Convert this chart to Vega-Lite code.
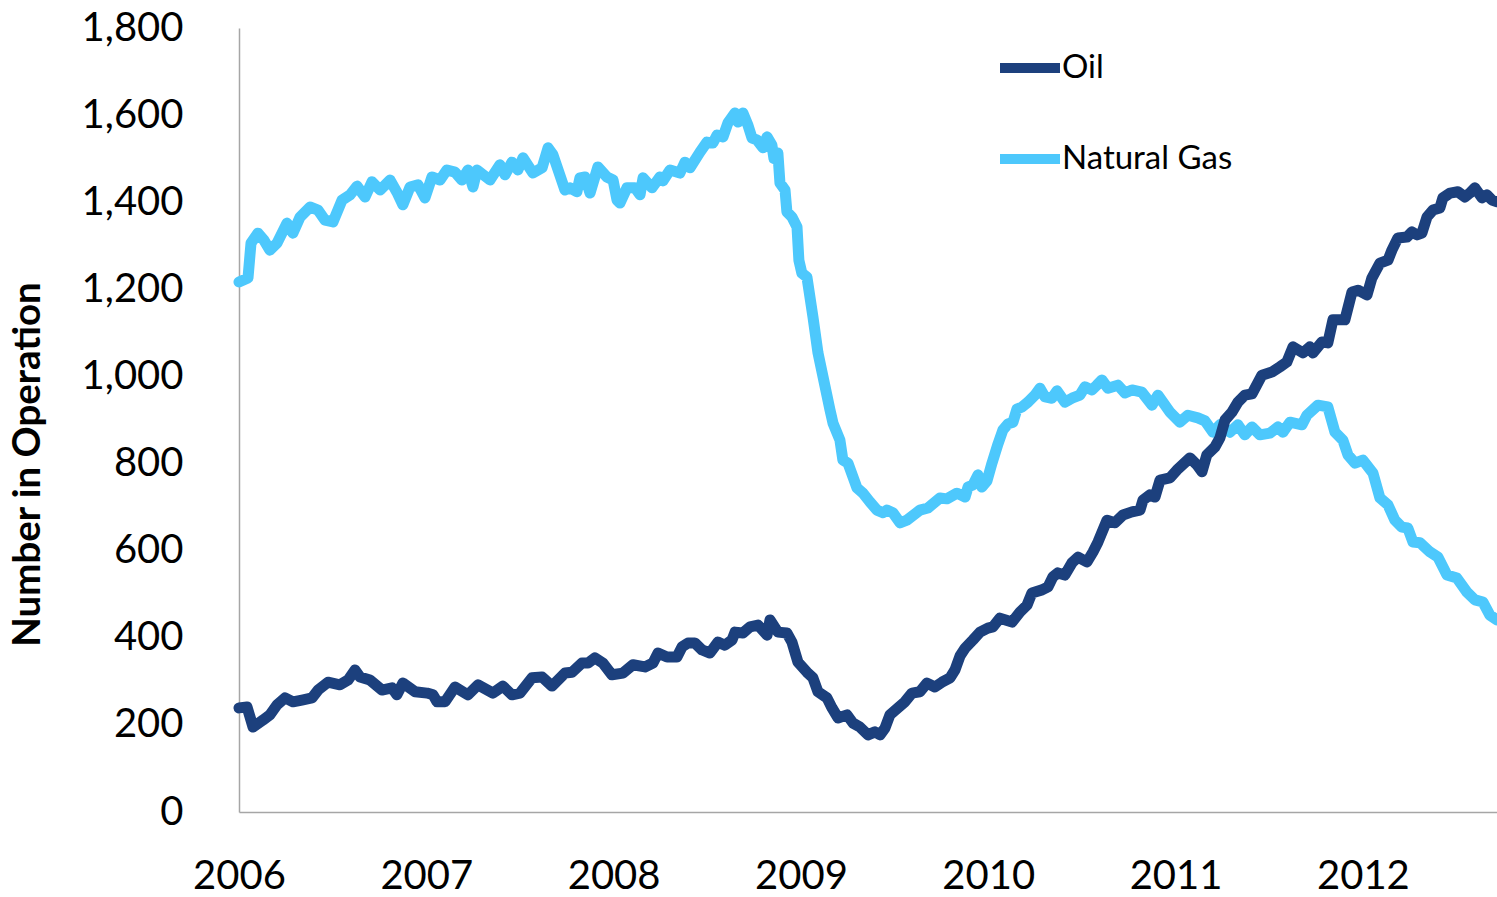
{
 "$schema": "https://vega.github.io/schema/vega-lite/v6.json",
 "width": 1258,
 "height": 784,
 "autosize": {"type": "none"},
 "padding": {"left": 239, "top": 28, "right": 0, "bottom": 85},
 "background": "white",
 "config": {"view": {"stroke": null}, "font": "Lato"},
 "data": {"values": [
{"s":"Natural Gas","t":2006.000,"v":1217},{"s":"Natural Gas","t":2006.048,"v":1226},{"s":"Natural Gas","t":2006.064,"v":1306},{"s":"Natural Gas","t":2006.101,"v":1329},{"s":"Natural Gas","t":2006.133,"v":1313},{"s":"Natural Gas","t":2006.165,"v":1290},{"s":"Natural Gas","t":2006.203,"v":1306},{"s":"Natural Gas","t":2006.256,"v":1352},{"s":"Natural Gas","t":2006.288,"v":1329},{"s":"Natural Gas","t":2006.326,"v":1366},{"s":"Natural Gas","t":2006.379,"v":1389},{"s":"Natural Gas","t":2006.422,"v":1382},{"s":"Natural Gas","t":2006.459,"v":1359},{"s":"Natural Gas","t":2006.502,"v":1355},{"s":"Natural Gas","t":2006.550,"v":1405},{"s":"Natural Gas","t":2006.593,"v":1417},{"s":"Natural Gas","t":2006.630,"v":1437},{"s":"Natural Gas","t":2006.673,"v":1412},{"s":"Natural Gas","t":2006.710,"v":1447},{"s":"Natural Gas","t":2006.753,"v":1428},{"s":"Natural Gas","t":2006.806,"v":1451},{"s":"Natural Gas","t":2006.843,"v":1423},{"s":"Natural Gas","t":2006.875,"v":1394},{"s":"Natural Gas","t":2006.913,"v":1435},{"s":"Natural Gas","t":2006.956,"v":1440},{"s":"Natural Gas","t":2006.993,"v":1410},
{"s":"Natural Gas","t":2007.030,"v":1458},{"s":"Natural Gas","t":2007.073,"v":1451},{"s":"Natural Gas","t":2007.110,"v":1474},{"s":"Natural Gas","t":2007.153,"v":1469},{"s":"Natural Gas","t":2007.190,"v":1451},{"s":"Natural Gas","t":2007.222,"v":1474},{"s":"Natural Gas","t":2007.249,"v":1435},{"s":"Natural Gas","t":2007.271,"v":1474},{"s":"Natural Gas","t":2007.340,"v":1451},{"s":"Natural Gas","t":2007.393,"v":1486},{"s":"Natural Gas","t":2007.420,"v":1463},{"s":"Natural Gas","t":2007.457,"v":1492},{"s":"Natural Gas","t":2007.489,"v":1474},{"s":"Natural Gas","t":2007.516,"v":1502},{"s":"Natural Gas","t":2007.569,"v":1467},{"s":"Natural Gas","t":2007.618,"v":1479},{"s":"Natural Gas","t":2007.650,"v":1525},{"s":"Natural Gas","t":2007.676,"v":1509},{"s":"Natural Gas","t":2007.740,"v":1428},{"s":"Natural Gas","t":2007.767,"v":1433},{"s":"Natural Gas","t":2007.804,"v":1424},{"s":"Natural Gas","t":2007.820,"v":1456},{"s":"Natural Gas","t":2007.847,"v":1458},{"s":"Natural Gas","t":2007.874,"v":1421},{"s":"Natural Gas","t":2007.916,"v":1481},{"s":"Natural Gas","t":2007.964,"v":1458},{"s":"Natural Gas","t":2007.997,"v":1451},
{"s":"Natural Gas","t":2008.018,"v":1405},{"s":"Natural Gas","t":2008.034,"v":1398},{"s":"Natural Gas","t":2008.071,"v":1433},{"s":"Natural Gas","t":2008.114,"v":1433},{"s":"Natural Gas","t":2008.141,"v":1417},{"s":"Natural Gas","t":2008.157,"v":1456},{"s":"Natural Gas","t":2008.205,"v":1433},{"s":"Natural Gas","t":2008.247,"v":1458},{"s":"Natural Gas","t":2008.263,"v":1449},{"s":"Natural Gas","t":2008.301,"v":1474},{"s":"Natural Gas","t":2008.354,"v":1467},{"s":"Natural Gas","t":2008.381,"v":1492},{"s":"Natural Gas","t":2008.408,"v":1479},{"s":"Natural Gas","t":2008.461,"v":1515},{"s":"Natural Gas","t":2008.498,"v":1538},{"s":"Natural Gas","t":2008.530,"v":1536},{"s":"Natural Gas","t":2008.552,"v":1554},{"s":"Natural Gas","t":2008.584,"v":1550},{"s":"Natural Gas","t":2008.610,"v":1582},{"s":"Natural Gas","t":2008.648,"v":1605},{"s":"Natural Gas","t":2008.664,"v":1584},{"s":"Natural Gas","t":2008.690,"v":1605},{"s":"Natural Gas","t":2008.717,"v":1577},{"s":"Natural Gas","t":2008.739,"v":1547},{"s":"Natural Gas","t":2008.765,"v":1543},{"s":"Natural Gas","t":2008.797,"v":1525},{"s":"Natural Gas","t":2008.819,"v":1550},{"s":"Natural Gas","t":2008.845,"v":1531},{"s":"Natural Gas","t":2008.856,"v":1500},{"s":"Natural Gas","t":2008.877,"v":1513},{"s":"Natural Gas","t":2008.888,"v":1444},{"s":"Natural Gas","t":2008.915,"v":1428},{"s":"Natural Gas","t":2008.925,"v":1378},{"s":"Natural Gas","t":2008.952,"v":1366},{"s":"Natural Gas","t":2008.979,"v":1343},{"s":"Natural Gas","t":2008.989,"v":1267},
{"s":"Natural Gas","t":2009.005,"v":1237},{"s":"Natural Gas","t":2009.032,"v":1228},{"s":"Natural Gas","t":2009.064,"v":1137},{"s":"Natural Gas","t":2009.091,"v":1054},{"s":"Natural Gas","t":2009.118,"v":999},{"s":"Natural Gas","t":2009.155,"v":923},{"s":"Natural Gas","t":2009.171,"v":893},{"s":"Natural Gas","t":2009.208,"v":854},{"s":"Natural Gas","t":2009.224,"v":808},{"s":"Natural Gas","t":2009.251,"v":801},{"s":"Natural Gas","t":2009.299,"v":744},{"s":"Natural Gas","t":2009.331,"v":732},{"s":"Natural Gas","t":2009.368,"v":712},{"s":"Natural Gas","t":2009.406,"v":693},{"s":"Natural Gas","t":2009.438,"v":687},{"s":"Natural Gas","t":2009.459,"v":693},{"s":"Natural Gas","t":2009.491,"v":687},{"s":"Natural Gas","t":2009.529,"v":664},{"s":"Natural Gas","t":2009.566,"v":670},{"s":"Natural Gas","t":2009.635,"v":693},{"s":"Natural Gas","t":2009.678,"v":698},{"s":"Natural Gas","t":2009.742,"v":721},{"s":"Natural Gas","t":2009.779,"v":719},{"s":"Natural Gas","t":2009.833,"v":732},{"s":"Natural Gas","t":2009.876,"v":723},{"s":"Natural Gas","t":2009.892,"v":746},{"s":"Natural Gas","t":2009.918,"v":751},{"s":"Natural Gas","t":2009.945,"v":774},{"s":"Natural Gas","t":2009.966,"v":746},{"s":"Natural Gas","t":2009.993,"v":760},
{"s":"Natural Gas","t":2010.020,"v":801},{"s":"Natural Gas","t":2010.052,"v":845},{"s":"Natural Gas","t":2010.078,"v":877},{"s":"Natural Gas","t":2010.105,"v":891},{"s":"Natural Gas","t":2010.132,"v":895},{"s":"Natural Gas","t":2010.153,"v":925},{"s":"Natural Gas","t":2010.180,"v":930},{"s":"Natural Gas","t":2010.212,"v":941},{"s":"Natural Gas","t":2010.249,"v":957},{"s":"Natural Gas","t":2010.276,"v":973},{"s":"Natural Gas","t":2010.303,"v":953},{"s":"Natural Gas","t":2010.340,"v":950},{"s":"Natural Gas","t":2010.367,"v":967},{"s":"Natural Gas","t":2010.409,"v":941},{"s":"Natural Gas","t":2010.447,"v":950},{"s":"Natural Gas","t":2010.489,"v":957},{"s":"Natural Gas","t":2010.516,"v":976},{"s":"Natural Gas","t":2010.554,"v":969},{"s":"Natural Gas","t":2010.580,"v":980},{"s":"Natural Gas","t":2010.607,"v":992},{"s":"Natural Gas","t":2010.639,"v":973},{"s":"Natural Gas","t":2010.692,"v":980},{"s":"Natural Gas","t":2010.730,"v":962},{"s":"Natural Gas","t":2010.767,"v":969},{"s":"Natural Gas","t":2010.820,"v":964},{"s":"Natural Gas","t":2010.874,"v":934},{"s":"Natural Gas","t":2010.906,"v":957},{"s":"Natural Gas","t":2010.970,"v":918},
{"s":"Natural Gas","t":2011.023,"v":895},{"s":"Natural Gas","t":2011.066,"v":911},{"s":"Natural Gas","t":2011.119,"v":905},{"s":"Natural Gas","t":2011.157,"v":898},{"s":"Natural Gas","t":2011.200,"v":872},{"s":"Natural Gas","t":2011.237,"v":889},{"s":"Natural Gas","t":2011.290,"v":872},{"s":"Natural Gas","t":2011.333,"v":889},{"s":"Natural Gas","t":2011.370,"v":866},{"s":"Natural Gas","t":2011.408,"v":884},{"s":"Natural Gas","t":2011.450,"v":866},{"s":"Natural Gas","t":2011.504,"v":870},{"s":"Natural Gas","t":2011.547,"v":884},{"s":"Natural Gas","t":2011.573,"v":872},{"s":"Natural Gas","t":2011.611,"v":895},{"s":"Natural Gas","t":2011.675,"v":889},{"s":"Natural Gas","t":2011.701,"v":911},{"s":"Natural Gas","t":2011.760,"v":934},{"s":"Natural Gas","t":2011.813,"v":930},{"s":"Natural Gas","t":2011.851,"v":872},{"s":"Natural Gas","t":2011.893,"v":854},{"s":"Natural Gas","t":2011.920,"v":820},{"s":"Natural Gas","t":2011.958,"v":801},
{"s":"Natural Gas","t":2012.000,"v":808},{"s":"Natural Gas","t":2012.054,"v":778},{"s":"Natural Gas","t":2012.091,"v":721},{"s":"Natural Gas","t":2012.134,"v":705},{"s":"Natural Gas","t":2012.171,"v":670},{"s":"Natural Gas","t":2012.208,"v":654},{"s":"Natural Gas","t":2012.240,"v":652},{"s":"Natural Gas","t":2012.267,"v":620},{"s":"Natural Gas","t":2012.305,"v":618},{"s":"Natural Gas","t":2012.358,"v":597},{"s":"Natural Gas","t":2012.401,"v":585},{"s":"Natural Gas","t":2012.449,"v":544},{"s":"Natural Gas","t":2012.502,"v":537},{"s":"Natural Gas","t":2012.555,"v":505},{"s":"Natural Gas","t":2012.598,"v":487},{"s":"Natural Gas","t":2012.641,"v":482},{"s":"Natural Gas","t":2012.678,"v":452},{"s":"Natural Gas","t":2012.716,"v":441},
{"s":"Oil","t":2006.000,"v":239},{"s":"Oil","t":2006.043,"v":241},{"s":"Oil","t":2006.075,"v":195},{"s":"Oil","t":2006.128,"v":211},{"s":"Oil","t":2006.165,"v":223},{"s":"Oil","t":2006.203,"v":246},{"s":"Oil","t":2006.246,"v":262},{"s":"Oil","t":2006.288,"v":253},{"s":"Oil","t":2006.336,"v":257},{"s":"Oil","t":2006.390,"v":262},{"s":"Oil","t":2006.422,"v":280},{"s":"Oil","t":2006.475,"v":298},{"s":"Oil","t":2006.539,"v":292},{"s":"Oil","t":2006.582,"v":303},{"s":"Oil","t":2006.619,"v":326},{"s":"Oil","t":2006.646,"v":310},{"s":"Oil","t":2006.699,"v":303},{"s":"Oil","t":2006.763,"v":280},{"s":"Oil","t":2006.817,"v":285},{"s":"Oil","t":2006.843,"v":269},{"s":"Oil","t":2006.875,"v":296},{"s":"Oil","t":2006.940,"v":276},
{"s":"Oil","t":2007.004,"v":273},{"s":"Oil","t":2007.036,"v":269},{"s":"Oil","t":2007.057,"v":253},{"s":"Oil","t":2007.100,"v":253},{"s":"Oil","t":2007.153,"v":287},{"s":"Oil","t":2007.222,"v":269},{"s":"Oil","t":2007.276,"v":292},{"s":"Oil","t":2007.356,"v":273},{"s":"Oil","t":2007.409,"v":289},{"s":"Oil","t":2007.457,"v":269},{"s":"Oil","t":2007.500,"v":273},{"s":"Oil","t":2007.564,"v":308},{"s":"Oil","t":2007.618,"v":310},{"s":"Oil","t":2007.671,"v":289},{"s":"Oil","t":2007.740,"v":319},{"s":"Oil","t":2007.778,"v":321},{"s":"Oil","t":2007.831,"v":342},{"s":"Oil","t":2007.863,"v":342},{"s":"Oil","t":2007.900,"v":354},{"s":"Oil","t":2007.943,"v":342},{"s":"Oil","t":2007.991,"v":315},
{"s":"Oil","t":2008.050,"v":319},{"s":"Oil","t":2008.103,"v":338},{"s":"Oil","t":2008.167,"v":333},{"s":"Oil","t":2008.210,"v":342},{"s":"Oil","t":2008.237,"v":365},{"s":"Oil","t":2008.285,"v":356},{"s":"Oil","t":2008.338,"v":356},{"s":"Oil","t":2008.365,"v":379},{"s":"Oil","t":2008.397,"v":388},{"s":"Oil","t":2008.434,"v":388},{"s":"Oil","t":2008.472,"v":372},{"s":"Oil","t":2008.514,"v":365},{"s":"Oil","t":2008.557,"v":390},{"s":"Oil","t":2008.594,"v":383},{"s":"Oil","t":2008.632,"v":395},{"s":"Oil","t":2008.648,"v":413},{"s":"Oil","t":2008.690,"v":411},{"s":"Oil","t":2008.728,"v":425},{"s":"Oil","t":2008.771,"v":429},{"s":"Oil","t":2008.819,"v":406},{"s":"Oil","t":2008.835,"v":441},{"s":"Oil","t":2008.877,"v":413},{"s":"Oil","t":2008.925,"v":411},{"s":"Oil","t":2008.952,"v":390},{"s":"Oil","t":2008.984,"v":344},
{"s":"Oil","t":2009.032,"v":321},{"s":"Oil","t":2009.064,"v":308},{"s":"Oil","t":2009.091,"v":276},{"s":"Oil","t":2009.139,"v":262},{"s":"Oil","t":2009.166,"v":239},{"s":"Oil","t":2009.198,"v":216},{"s":"Oil","t":2009.246,"v":223},{"s":"Oil","t":2009.278,"v":204},{"s":"Oil","t":2009.315,"v":195},{"s":"Oil","t":2009.358,"v":177},{"s":"Oil","t":2009.395,"v":184},{"s":"Oil","t":2009.422,"v":177},{"s":"Oil","t":2009.449,"v":193},{"s":"Oil","t":2009.475,"v":223},{"s":"Oil","t":2009.518,"v":239},{"s":"Oil","t":2009.555,"v":253},{"s":"Oil","t":2009.593,"v":273},{"s":"Oil","t":2009.635,"v":276},{"s":"Oil","t":2009.673,"v":296},{"s":"Oil","t":2009.715,"v":287},{"s":"Oil","t":2009.753,"v":298},{"s":"Oil","t":2009.796,"v":308},{"s":"Oil","t":2009.822,"v":326},{"s":"Oil","t":2009.849,"v":358},{"s":"Oil","t":2009.876,"v":376},{"s":"Oil","t":2009.918,"v":395},{"s":"Oil","t":2009.956,"v":413},{"s":"Oil","t":2009.998,"v":422},
{"s":"Oil","t":2010.025,"v":425},{"s":"Oil","t":2010.062,"v":445},{"s":"Oil","t":2010.127,"v":436},{"s":"Oil","t":2010.169,"v":459},{"s":"Oil","t":2010.207,"v":475},{"s":"Oil","t":2010.233,"v":503},{"s":"Oil","t":2010.287,"v":510},{"s":"Oil","t":2010.319,"v":517},{"s":"Oil","t":2010.345,"v":540},{"s":"Oil","t":2010.372,"v":549},{"s":"Oil","t":2010.409,"v":544},{"s":"Oil","t":2010.447,"v":572},{"s":"Oil","t":2010.479,"v":585},{"s":"Oil","t":2010.527,"v":574},{"s":"Oil","t":2010.559,"v":597},{"s":"Oil","t":2010.586,"v":620},{"s":"Oil","t":2010.634,"v":670},{"s":"Oil","t":2010.676,"v":664},{"s":"Oil","t":2010.719,"v":682},{"s":"Oil","t":2010.767,"v":689},{"s":"Oil","t":2010.810,"v":693},{"s":"Oil","t":2010.826,"v":716},{"s":"Oil","t":2010.863,"v":728},{"s":"Oil","t":2010.890,"v":723},{"s":"Oil","t":2010.917,"v":762},{"s":"Oil","t":2010.970,"v":767},
{"s":"Oil","t":2011.007,"v":785},{"s":"Oil","t":2011.077,"v":813},{"s":"Oil","t":2011.114,"v":797},{"s":"Oil","t":2011.141,"v":781},{"s":"Oil","t":2011.167,"v":820},{"s":"Oil","t":2011.210,"v":838},{"s":"Oil","t":2011.237,"v":859},{"s":"Oil","t":2011.264,"v":900},{"s":"Oil","t":2011.301,"v":918},{"s":"Oil","t":2011.333,"v":941},{"s":"Oil","t":2011.370,"v":957},{"s":"Oil","t":2011.408,"v":960},{"s":"Oil","t":2011.461,"v":1003},{"s":"Oil","t":2011.514,"v":1010},{"s":"Oil","t":2011.557,"v":1022},{"s":"Oil","t":2011.594,"v":1033},{"s":"Oil","t":2011.627,"v":1068},{"s":"Oil","t":2011.680,"v":1054},{"s":"Oil","t":2011.717,"v":1068},{"s":"Oil","t":2011.733,"v":1054},{"s":"Oil","t":2011.781,"v":1079},{"s":"Oil","t":2011.813,"v":1077},{"s":"Oil","t":2011.840,"v":1130},{"s":"Oil","t":2011.904,"v":1130},{"s":"Oil","t":2011.942,"v":1194},{"s":"Oil","t":2011.974,"v":1198},
{"s":"Oil","t":2012.022,"v":1187},{"s":"Oil","t":2012.048,"v":1226},{"s":"Oil","t":2012.091,"v":1260},{"s":"Oil","t":2012.134,"v":1267},{"s":"Oil","t":2012.155,"v":1290},{"s":"Oil","t":2012.187,"v":1318},{"s":"Oil","t":2012.235,"v":1320},{"s":"Oil","t":2012.262,"v":1332},{"s":"Oil","t":2012.289,"v":1325},{"s":"Oil","t":2012.315,"v":1329},{"s":"Oil","t":2012.342,"v":1366},{"s":"Oil","t":2012.374,"v":1382},{"s":"Oil","t":2012.411,"v":1387},{"s":"Oil","t":2012.427,"v":1410},{"s":"Oil","t":2012.465,"v":1421},{"s":"Oil","t":2012.507,"v":1424},{"s":"Oil","t":2012.545,"v":1412},{"s":"Oil","t":2012.571,"v":1421},{"s":"Oil","t":2012.598,"v":1433},{"s":"Oil","t":2012.636,"v":1410},{"s":"Oil","t":2012.662,"v":1417},{"s":"Oil","t":2012.689,"v":1405},{"s":"Oil","t":2012.716,"v":1401}
 ]},
 "encoding": {
  "x": {
   "field": "t", "type": "quantitative",
   "scale": {"domain": [2006, 2012.716], "nice": false, "zero": false},
   "axis": {"values": [2006, 2007, 2008, 2009, 2010, 2011, 2012], "format": "d", "title": null, "grid": false, "ticks": false, "labelFontSize": 40, "labelFont": "Lato", "labelColor": "black", "labelPadding": 44, "labelFlush": false, "labelOverlap": false, "domainColor": "#a6a6a6", "domainWidth": 1.5}
  },
  "y": {
   "field": "v", "type": "quantitative",
   "scale": {"domain": [0, 1800], "nice": false},
   "axis": {"values": [0, 200, 400, 600, 800, 1000, 1200, 1400, 1600, 1800], "format": ",d", "title": "Number in Operation", "titleFont": "Lato", "titleFontSize": 38.5, "titleFontWeight": "bold", "titleColor": "black", "titleX": -192, "titleY": 436, "grid": false, "ticks": false, "labelFontSize": 40, "labelFont": "Lato", "labelColor": "black", "labelPadding": 56, "labelFlush": false, "labelOverlap": false, "domainColor": "#a6a6a6", "domainWidth": 1.5}
  },
  "color": {
   "field": "s", "type": "nominal",
   "scale": {"domain": ["Oil", "Natural Gas"], "range": ["#1c407d", "#4dc8fc"]},
   "legend": {"orient": "none", "legendX": 756, "legendY": 5, "title": null, "direction": "vertical", "symbolType": "stroke", "symbolSize": 3600, "symbolStrokeWidth": 10, "labelFontSize": 33, "labelFont": "Lato", "labelColor": "black", "labelLimit": 0, "rowPadding": 36, "labelOffset": -3, "padding": 0}
  }
 },
 "layer": [
  {
   "transform": [{"filter": "datum.s == 'Natural Gas'"}],
   "mark": {"type": "line", "strokeWidth": 11, "strokeCap": "round", "strokeJoin": "round"}
  },
  {
   "transform": [{"filter": "datum.s == 'Oil'"}],
   "mark": {"type": "line", "strokeWidth": 11, "strokeCap": "round", "strokeJoin": "round"}
  }
 ]
}
